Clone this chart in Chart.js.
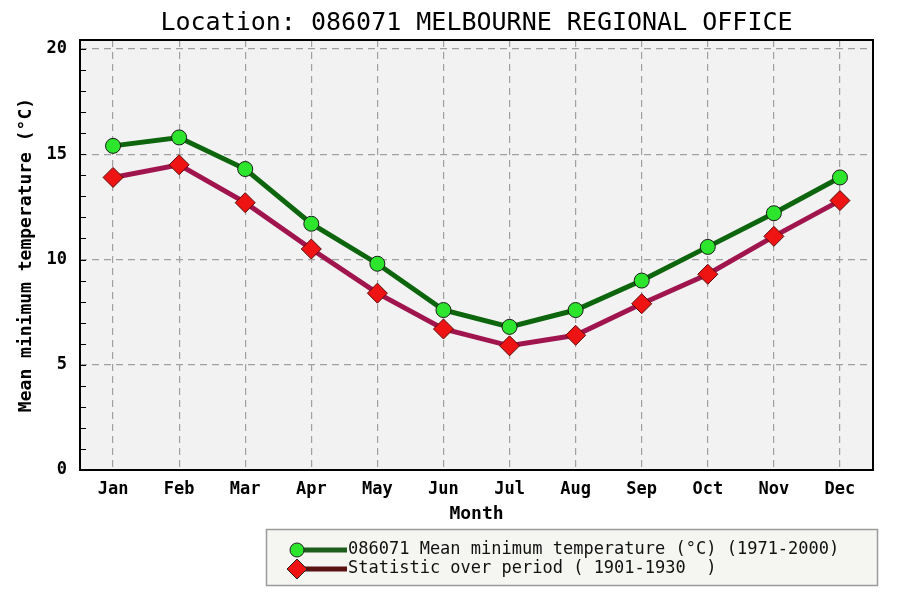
<!DOCTYPE html>
<html>
<head>
<meta charset="utf-8">
<script src="https://cdn.jsdelivr.net/npm/chart.js@4/dist/chart.umd.min.js"></script>
<style>
html,body{margin:0;padding:0;background:#fff;}
#wrap{width:900px;height:600px;}
</style>
</head>
<body>
<div id="wrap"><canvas id="c" width="900" height="600"></canvas></div>
<script>
const TITLE = 'Location: 086071 MELBOURNE REGIONAL OFFICE';
const MONTHS = ['Jan','Feb','Mar','Apr','May','Jun','Jul','Aug','Sep','Oct','Nov','Dec'];
const MEAN_MIN_1971_2000 = [15.4, 15.8, 14.3, 11.7, 9.8, 7.6, 6.8, 7.6, 9.0, 10.6, 12.2, 13.9];
const MEAN_MIN_1901_1930 = [13.9, 14.5, 12.7, 10.5, 8.4, 6.7, 5.9, 6.4, 7.9, 9.3, 11.1, 12.8];
const LABEL_A = '086071 Mean minimum temperature (°C) (1971-2000)';
const LABEL_B = 'Statistic over period ( 1901-1930  )';
const Y_TITLE = 'Mean minimum temperature (°C)';
const X_TITLE = 'Month';
const Y_TICKS = [0,1,2,3,4,5,6,7,8,9,10,11,12,13,14,15,16,17,18,19,20];
const Y_LABELLED = [0, 5, 10, 15, 20];

const MONO = "'DejaVu Sans Mono', 'Liberation Mono', monospace";

const plotBg = {
  id: 'plotBg',
  beforeDraw(chart) {
    const {ctx, chartArea: a} = chart;
    ctx.save();
    ctx.fillStyle = '#f2f2f2';
    ctx.fillRect(a.left, a.top, a.right - a.left, a.bottom - a.top);
    ctx.restore();
  },
  afterDatasetsDraw(chart) {
    const {ctx, chartArea: a} = chart;
    const ys = chart.scales.y;
    ctx.save();
    ctx.strokeStyle = '#000';
    ctx.lineWidth = 1;
    ys.ticks.forEach(t => {
      const py = Math.round(ys.getPixelForValue(t.value)) + 0.5;
      ctx.beginPath();
      ctx.moveTo(a.left, py);
      ctx.lineTo(a.left + 6, py);
      ctx.stroke();
    });
    ctx.lineWidth = 2;
    ctx.strokeRect(a.left, a.top, a.right - a.left, a.bottom - a.top);
    ctx.restore();
  }
};

const boxLegend = {
  id: 'boxLegend',
  afterDraw(chart) {
    const {ctx} = chart;
    const x0 = 266, y0 = 529, w = 611, h = 56;
    ctx.save();
    ctx.fillStyle = '#f5f5f2';
    ctx.fillRect(x0, y0, w, h);
    ctx.strokeStyle = '#9a9a9a';
    ctx.lineWidth = 1.5;
    ctx.strokeRect(x0 + 0.5, y0 + 0.5, w, h);
    const rows = [
      {label: chart.data.datasets[0].label, line: '#1d5e1d', fill: '#2ee52e', shape: 'circle', y: 550},
      {label: chart.data.datasets[1].label, line: '#5a1212', fill: '#ee1414', shape: 'diamond', y: 569}
    ];
    rows.forEach(r => {
      ctx.strokeStyle = r.line;
      ctx.lineWidth = 5;
      ctx.beginPath();
      ctx.moveTo(292, r.y);
      ctx.lineTo(347, r.y);
      ctx.stroke();
      ctx.fillStyle = r.fill;
      ctx.strokeStyle = '#222';
      ctx.lineWidth = 1;
      ctx.beginPath();
      if (r.shape === 'circle') {
        ctx.arc(297, r.y, 7, 0, Math.PI * 2);
      } else {
        ctx.moveTo(297, r.y - 10);
        ctx.lineTo(307, r.y);
        ctx.lineTo(297, r.y + 10);
        ctx.lineTo(287, r.y);
        ctx.closePath();
      }
      ctx.fill();
      ctx.stroke();
      ctx.fillStyle = '#111';
      ctx.font = "17px " + MONO;
      ctx.textBaseline = 'middle';
      ctx.textAlign = 'left';
      ctx.fillText(r.label, 348, r.y);
    });
    ctx.restore();
  }
};

const dashedGray = '#a0a0a0';

new Chart(document.getElementById('c'), {
  type: 'line',
  data: {
    labels: MONTHS,
    datasets: [
      {
        label: LABEL_A,
        data: MEAN_MIN_1971_2000,
        borderColor: '#0d650d',
        borderWidth: 5,
        pointStyle: 'circle',
        pointRadius: 7.5,
        pointHoverRadius: 7.5,
        pointBackgroundColor: '#2ee52e',
        pointBorderColor: '#1a1a1a',
        pointBorderWidth: 1,
        tension: 0
      },
      {
        label: LABEL_B,
        data: MEAN_MIN_1901_1930,
        borderColor: '#a1154f',
        borderWidth: 5,
        pointStyle: 'rectRot',
        pointRadius: 10,
        pointHoverRadius: 10,
        pointBackgroundColor: '#ee1414',
        pointBorderColor: '#5a0a0a',
        pointBorderWidth: 1,
        tension: 0
      }
    ]
  },
  options: {
    responsive: false,
    animation: false,
    devicePixelRatio: 1,
    layout: {padding: {left: 0, right: 27, top: 0, bottom: 75}},
    plugins: {
      legend: {display: false},
      tooltip: {enabled: false},
      title: {
        display: true,
        text: TITLE,
        fullSize: false,
        color: '#000',
        font: {family: MONO, size: 25, weight: 'normal', lineHeight: 1},
        padding: {top: 11, bottom: 4}
      }
    },
    scales: {
      x: {
        offset: true,
        afterFit(s) { s.height = 55; },
        grid: {
          display: true,
          offset: false,
          drawTicks: false,
          color: dashedGray,
          lineWidth: 1.2
        },
        border: {display: false, dash: [7, 5]},
        ticks: {
          color: '#000',
          padding: 9,
          font: {family: MONO, size: 17, weight: 'bold'}
        },
        title: {
          display: true,
          text: X_TITLE,
          color: '#000',
          font: {family: MONO, size: 18, weight: 'bold'},
          padding: {top: 2, bottom: 0}
        }
      },
      y: {
        min: 0,
        max: 20.43,
        afterFit(s) { s.width = 80; },
        afterBuildTicks(s) {
          s.ticks = Y_TICKS.map(v => ({value: v}));
        },
        grid: {
          drawTicks: false,
          color: ctx => (ctx.tick && Y_LABELLED.includes(ctx.tick.value) && ctx.tick.value > 0) ? dashedGray : 'rgba(0,0,0,0)',
          lineWidth: 1.2
        },
        border: {display: false, dash: [7, 5]},
        ticks: {
          stepSize: 1,
          color: '#000',
          padding: 13,
          autoSkip: false,
          font: {family: MONO, size: 17, weight: 'bold'},
          callback: v => (Y_LABELLED.includes(v) ? String(v) : '')
        },
        title: {
          display: true,
          text: Y_TITLE,
          color: '#000',
          font: {family: MONO, size: 18, weight: 'bold'},
          padding: {top: 16, bottom: 0}
        }
      }
    }
  },
  plugins: [plotBg, boxLegend]
});
</script>
</body>
</html>
